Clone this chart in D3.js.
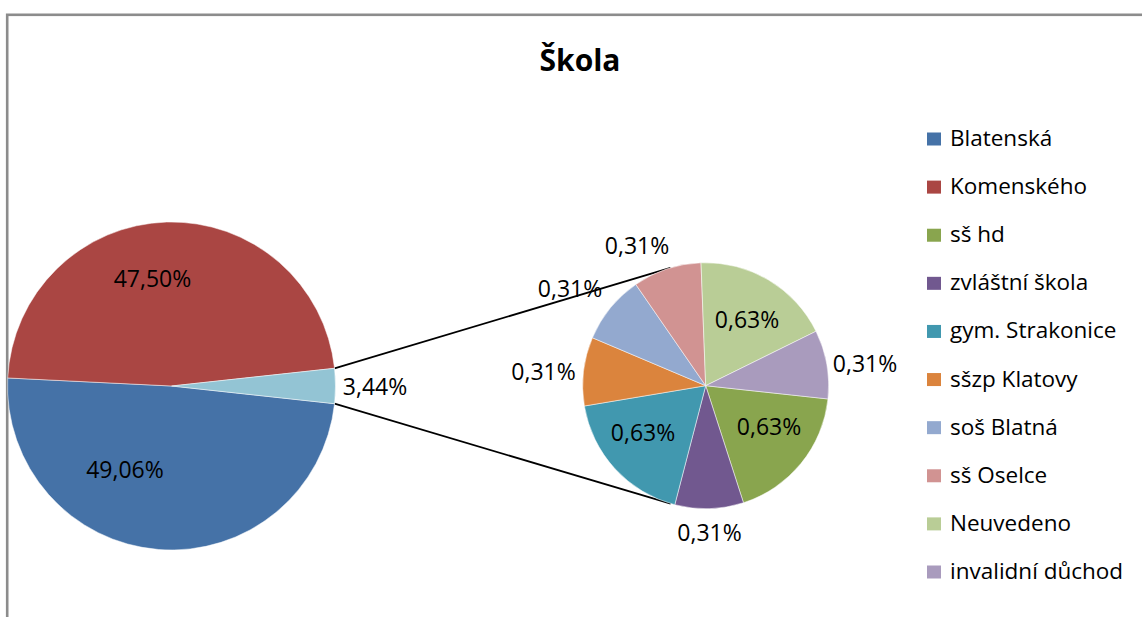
<!DOCTYPE html>
<html lang="cs">
<head>
<meta charset="utf-8"/>
<title>Škola</title>
<script src="https://d3js.org/d3.v7.min.js"></script>
<style>
    body { margin: 0; padding: 0; width: 1142px; height: 617px; overflow: hidden; background: #fff; }
    svg text { font-family: 'Open Sans', 'Noto Sans', sans-serif; fill: #000; }
</style>
</head>
<body>
<div id="chart"></div>
<script>
    // Data (percent values as shown on the chart)
    const mainNames = ["Blatenská", "Komenského"];
    const mainValues = [49.06, 47.50];
    const otherNames = ["sš hd", "zvláštní škola", "gym. Strakonice", "sšzp Klatovy", "soš Blatná", "sš Oselce", "Neuvedeno", "invalidní důchod"];
    const otherValues = [0.63, 0.31, 0.63, 0.31, 0.31, 0.31, 0.63, 0.31];
    const legendNames = mainNames.concat(otherNames);
    const colors = ["#4572A7", "#AA4643", "#89A54E", "#71588F", "#4198AF", "#DB843D", "#93A9CF", "#D19392", "#B9CD96", "#A99BBD"];
    const otherColor = "#93C4D4";

    // Layout
    const W = 1142, H = 617;
    const mainPie = { cx: 171.5, cy: 386, r: 164 };
    const subPie = { cx: 705.7, cy: 385.7, r: 123 };
    // label anchors relative to the pie centre (Excel "best fit" placement)
    const mainLabelPos = [[-46.5, 92.3], [-19, -98.7], [203.5, 9]];
    const subLabelPos = [[63.3, 49.3], [3.8, 155], [-62.7, 55], [-162.2, -5.7], [-135.7, -89], [-68.7, -131.4], [41.3, -57.7], [159.3, -13.7]];

    const fmt = v => v.toFixed(2).replace(".", ",") + "%";
    const otherTotal = d3.sum(otherValues);
    const main = mainValues.concat([otherTotal]);
    const total = d3.sum(main);

    const svg = d3.select("#chart").append("svg")
        .attr("width", W).attr("height", H);

    svg.append("rect").attr("width", W).attr("height", H).attr("fill", "#fff");

    // chart frame (cut off on the right and bottom)
    svg.append("rect")
        .attr("x", 7.2).attr("y", 14.8)
        .attr("width", W + 20).attr("height", H + 20)
        .attr("fill", "none").attr("stroke", "#8c8c8c").attr("stroke-width", 2.6);

    // title
    svg.append("text")
        .attr("x", 580).attr("y", 70.7)
        .attr("text-anchor", "middle")
        .style("font-size", "30px").style("font-weight", "bold")
        .text("Škola");

    // the "other" slice is centred on the right horizontal
    const half = (otherTotal / total) * Math.PI;
    const start = Math.PI / 2 + half;

    const pieMain = d3.pie().sort(null).value(d => d)
        .startAngle(start).endAngle(start + 2 * Math.PI);
    const pieSub = d3.pie().sort(null).value(d => d)
        .startAngle(start).endAngle(start + 2 * Math.PI);

    const arcMain = d3.arc().innerRadius(0).outerRadius(mainPie.r);
    const arcSub = d3.arc().innerRadius(0).outerRadius(subPie.r);

    const mainArcs = pieMain(main);
    const subArcs = pieSub(otherValues);

    // connector lines: from the edges of the "other" slice to tangent points on the secondary pie
    const otherArc = mainArcs[2];
    const polar = (c, r, a) => [c.cx + r * Math.sin(a), c.cy - r * Math.cos(a)];
    const pUp = polar(mainPie, mainPie.r, otherArc.startAngle);
    const pDown = polar(mainPie, mainPie.r, otherArc.endAngle);
    function tangent(p, sign) {
        const dx = p[0] - subPie.cx, dy = p[1] - subPie.cy;
        const d = Math.hypot(dx, dy);
        const dir = Math.atan2(dx, -dy);
        const off = Math.acos(subPie.r / d);
        return polar(subPie, subPie.r, dir + sign * off);
    }
    const lines = [[pUp, tangent(pUp, 1)], [pDown, tangent(pDown, -1)]];
    svg.selectAll(".conn").data(lines).enter().append("line")
        .attr("class", "conn")
        .attr("x1", d => d[0][0]).attr("y1", d => d[0][1])
        .attr("x2", d => d[1][0]).attr("y2", d => d[1][1])
        .attr("stroke", "#000").attr("stroke-width", 1.8);

    // main pie
    const gMain = svg.append("g").attr("transform", `translate(${mainPie.cx},${mainPie.cy})`);
    gMain.selectAll("path").data(mainArcs).enter().append("path")
        .attr("d", arcMain)
        .attr("fill", (d, i) => i < 2 ? colors[i] : otherColor)
        .attr("stroke", "#fff").attr("stroke-width", 0.7).attr("stroke-opacity", 0.7);
    gMain.selectAll("text").data(mainArcs).enter().append("text")
        .attr("x", (d, i) => mainLabelPos[i][0])
        .attr("y", (d, i) => mainLabelPos[i][1])
        .attr("text-anchor", "middle")
        .style("font-size", "23px")
        .text(d => fmt(d.data));

    // secondary pie
    const gSub = svg.append("g").attr("transform", `translate(${subPie.cx},${subPie.cy})`);
    gSub.selectAll("path").data(subArcs).enter().append("path")
        .attr("d", arcSub)
        .attr("fill", (d, i) => colors[i + 2])
        .attr("stroke", "#fff").attr("stroke-width", 0.7).attr("stroke-opacity", 0.7);
    gSub.selectAll("text").data(subArcs).enter().append("text")
        .attr("x", (d, i) => subLabelPos[i][0])
        .attr("y", (d, i) => subLabelPos[i][1])
        .attr("text-anchor", "middle")
        .style("font-size", "23px")
        .text(d => fmt(d.data));

    // legend
    const yLegend = d3.scalePoint().domain(legendNames).range([146, 579]);
    const legend = svg.append("g").selectAll("g").data(legendNames).enter().append("g")
        .attr("transform", d => `translate(927,${yLegend(d)})`);
    legend.append("rect")
        .attr("x", 0).attr("y", -13.5)
        .attr("width", 14).attr("height", 13)
        .attr("fill", (d, i) => colors[i]);
    legend.append("text")
        .attr("x", 23).attr("y", 0)
        .style("font-size", "22.5px")
        .text(d => d);
</script>
</body>
</html>
